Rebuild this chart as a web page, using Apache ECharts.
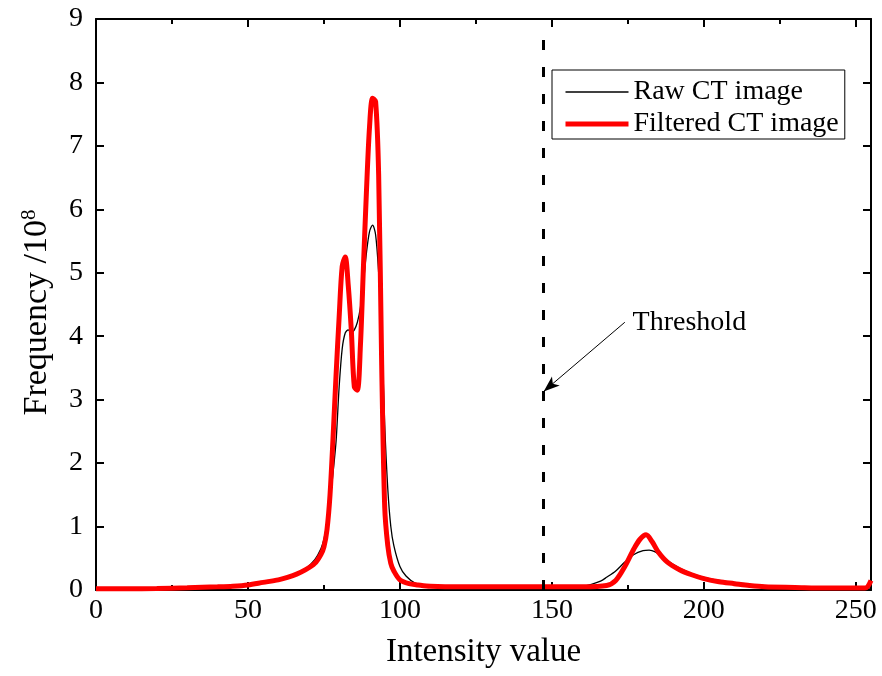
<!DOCTYPE html>
<html lang="en" style="height: 100%">
<head>
  <meta charset="utf-8">
</head>
<body style="height: 100%; margin: 0">
  <div id="container" style="width: 882px; height: 676px"></div>

  <script type="text/javascript" src="https://fastly.jsdelivr.net/npm/echarts@6/dist/echarts.min.js"></script>
  <script type="text/javascript">
    var dom = document.getElementById('container');
    var myChart = echarts.init(dom, null, { renderer: 'canvas' });

// Raw CT image histogram (frequency / 10^8)
var rawX = [0, 10, 20, 30, 40, 45, 50, 55, 60, 63, 66, 69, 72, 74, 75, 76, 77, 78, 79, 80, 81, 82, 83, 84, 85, 86, 87, 88, 89, 90, 91, 92, 93, 94, 95, 96, 97, 98, 100, 102, 105, 110, 120, 140, 155, 160, 163, 166, 168, 171, 174, 177, 180, 182, 184, 187, 190, 193, 196, 200, 205, 210, 215, 220, 230, 240, 250, 255];
var rawY = [0.02, 0.02, 0.025, 0.035, 0.05, 0.06, 0.08, 0.12, 0.16, 0.2, 0.26, 0.34, 0.48, 0.65, 0.8, 1.05, 1.4, 1.85, 2.35, 3.2, 3.8, 4.05, 4.1, 4.05, 4.1, 4.22, 4.45, 4.85, 5.32, 5.65, 5.75, 5.6, 5.0, 4.05, 2.6, 1.6, 1.0, 0.7, 0.37, 0.22, 0.11, 0.06, 0.05, 0.05, 0.05, 0.06, 0.09, 0.14, 0.2, 0.3, 0.44, 0.56, 0.62, 0.63, 0.6, 0.5, 0.4, 0.32, 0.26, 0.2, 0.15, 0.12, 0.09, 0.07, 0.04, 0.03, 0.03, 0.03];

// Filtered CT image histogram
var filtX = [0, 10, 20, 30, 40, 45, 50, 55, 60, 63, 66, 69, 72, 74, 75, 76, 77, 78, 79, 80, 81, 82, 83, 84, 85, 86, 87, 88, 89, 90, 91, 92, 93, 94, 95, 96, 97, 98, 100, 103, 106, 110, 120, 140, 160, 168, 171, 174, 177, 179, 181, 183, 185, 188, 192, 196, 200, 205, 210, 215, 220, 230, 240, 250, 253, 254, 255];
var filtY = [0.02, 0.02, 0.025, 0.035, 0.05, 0.06, 0.08, 0.12, 0.16, 0.2, 0.25, 0.32, 0.42, 0.56, 0.68, 0.95, 1.5, 2.4, 3.4, 4.3, 5.1, 5.25, 4.8, 4.1, 3.2, 3.15, 3.85, 5.1, 6.3, 7.3, 7.75, 7.7, 6.55, 3.55, 1.3, 0.7, 0.42, 0.3, 0.16, 0.1, 0.08, 0.06, 0.05, 0.05, 0.05, 0.07, 0.15, 0.37, 0.65, 0.8, 0.87, 0.76, 0.6, 0.44, 0.32, 0.24, 0.18, 0.13, 0.1, 0.07, 0.05, 0.04, 0.03, 0.03, 0.03, 0.06, 0.15];

var threshold = 147;
var arrowFrom = [174, 4.22];
var arrowTo = [147.3, 3.13];

function pairs(xs, ys) {
  var out = [];
  for (var i = 0; i < xs.length; i++) out.push([xs[i], ys[i]]);
  return out;
}

var serif = 'Liberation Serif';
var axisCommon = {
  type: 'value',
  axisLine: { show: true, onZero: false, lineStyle: { color: '#000', width: 2 } },
  axisTick: { show: true, inside: true, length: 8, lineStyle: { color: '#000', width: 2 } },
  splitLine: { show: false },
  axisLabel: { color: '#000', fontFamily: serif, fontSize: 28 }
};

var option = {
  animation: false,
  grid: { left: 96, right: 11, top: 19, bottom: 86 },
  legend: {
    left: 552, top: 70,
    orient: 'vertical',
    data: [
      { name: 'Raw CT image', lineStyle: { color: '#000', width: 1.3 } },
      { name: 'Filtered CT image', lineStyle: { color: '#ff0000', width: 5 } }
    ],
    itemWidth: 63, itemHeight: 14, itemGap: 4,
    padding: [8, 6, 1, 11],
    itemStyle: { opacity: 0 },
    borderColor: '#000', borderWidth: 1,
    textStyle: { color: '#000', fontFamily: serif, fontSize: 28 }
  },
  xAxis: [
    Object.assign({}, axisCommon, {
      min: 0, max: 255, interval: 50,
      minorTick: { show: true, splitNumber: 2, length: 5, lineStyle: { color: '#000', width: 2 } },
      axisLabel: { color: '#000', fontFamily: serif, fontSize: 28, margin: 7 },
      name: 'Intensity value', nameLocation: 'middle', nameGap: 46,
      nameTextStyle: { color: '#000', fontFamily: serif, fontSize: 33 }
    }),
    Object.assign({}, axisCommon, {
      position: 'top', min: 0, max: 255, interval: 50,
      minorTick: { show: true, splitNumber: 2, length: 5, lineStyle: { color: '#000', width: 2 } },
      axisLabel: { show: false }
    })
  ],
  yAxis: [
    Object.assign({}, axisCommon, {
      min: 0, max: 9, interval: 1,
      axisLabel: { color: '#000', fontFamily: serif, fontSize: 28, margin: 13 },
      name: 'Frequency /10{sup|8}', nameLocation: 'middle', nameGap: 40,
      nameTextStyle: {
        color: '#000', fontFamily: serif, fontSize: 34,
        padding: [0, 16, 0, 0],
        rich: { sup: { fontFamily: serif, fontSize: 21, verticalAlign: 'top', padding: [0, 0, 16, 0] } }
      }
    }),
    Object.assign({}, axisCommon, {
      position: 'right', min: 0, max: 9, interval: 1,
      axisLabel: { show: false }
    })
  ],
  series: [
    {
      name: 'Raw CT image', type: 'line',
      data: pairs(rawX, rawY),
      showSymbol: false, symbol: 'none',
      smooth: 0.3,
      lineStyle: { color: '#000', width: 1.3 },
      itemStyle: { color: '#000' },
      z: 2
    },
    {
      name: 'Filtered CT image', type: 'line',
      data: pairs(filtX, filtY),
      showSymbol: false, symbol: 'none',
      smooth: 0.3,
      lineStyle: { color: '#ff0000', width: 5 },
      itemStyle: { color: '#ff0000' },
      z: 3
    },
    {
      name: 'threshold', type: 'line', data: [],
      markLine: {
        silent: true,
        label: { show: false },
        data: [
          [
            { coord: [threshold, 0], symbol: 'none', lineStyle: { color: '#000', width: 3, type: [10, 17] } },
            { coord: [threshold, 8.75], symbol: 'none' }
          ],
          [
            { coord: arrowFrom, symbol: 'none', lineStyle: { color: '#000', width: 1, type: 'solid' } },
            { coord: arrowTo, symbol: 'arrow', symbolSize: [9, 16] }
          ]
        ]
      },
      markPoint: {
        silent: true,
        symbol: 'rect', symbolSize: 1,
        itemStyle: { color: 'rgba(0,0,0,0)' },
        data: [{
          coord: [176.4, 4.22],
          label: { show: true, position: 'right', distance: 0, formatter: 'Threshold', color: '#000', fontFamily: serif, fontSize: 28 }
        }]
      }
    }
  ]
};

myChart.setOption(option);
window.addEventListener('resize', myChart.resize);
  </script>
</body>
</html>
